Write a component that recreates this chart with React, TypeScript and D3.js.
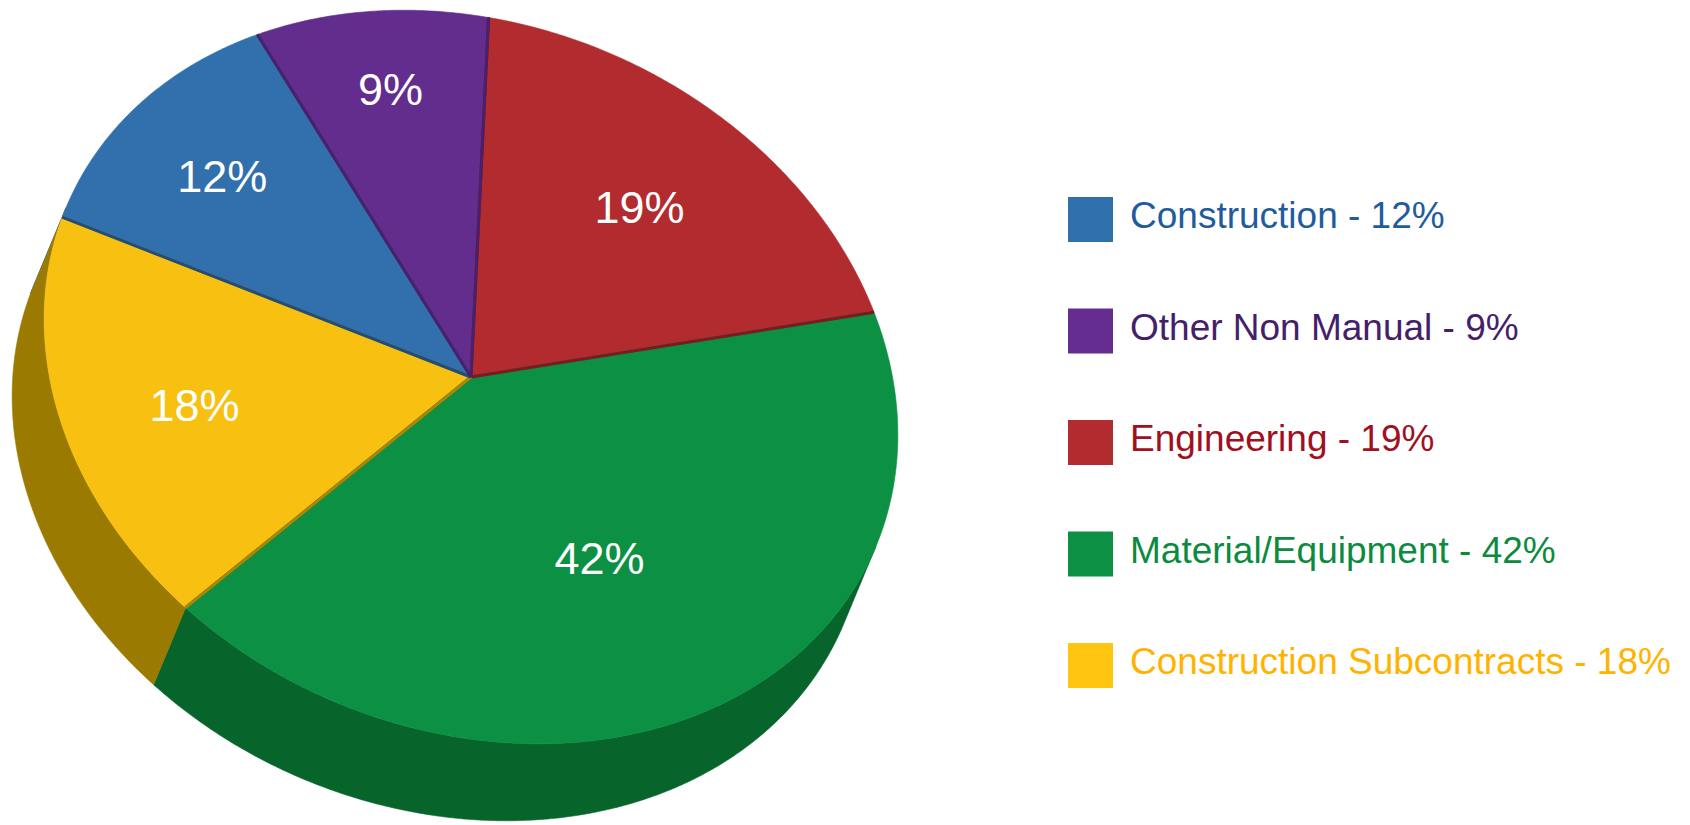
import React from 'react';
import * as d3 from 'd3';

// ---- data ----
const categories: string[] = ['Construction', 'Other Non Manual', 'Engineering', 'Material/Equipment', 'Construction Subcontracts'];
const values: number[] = [12, 9, 19, 42, 18];

// ---- styles ----
const topColors = ['#3170AD', '#632D8E', '#B22B2F', '#0C9144', '#F8C011'];
const sideColors = ['#24558A', '#4A1F6C', '#7E1A1E', '#07652B', '#9A7A00'];
const edgeColors = ['#1F4E7E', '#4A1F6C', '#7E1A1E', '#0A7A38', '#A8860A'];
const swatchColors = ['#3070AD', '#642D8F', '#B22B2F', '#0C9144', '#FFC511'];
const legendTextColors = ['#1F5C9E', '#45206A', '#A0101E', '#0C8A3E', '#FFB300'];

const W = 1690;
const H = 825;
const FONT = "'Liberation Sans', Arial, Helvetica, sans-serif";

// 3D view (orthographic projection of the pie disc)
const CENTER: [number, number] = [471, 377];
const AXIS_X: [number, number] = [17.6, -359.5];
const AXIS_Y: [number, number] = [426.5, 72.7];
const DEPTH: [number, number] = [-32, 77];
const START_ANGLE = (-75.6 * Math.PI) / 180;

const proj = (t: number, f = 1, depth = 0): [number, number] => [
  CENTER[0] + f * (Math.cos(t) * AXIS_X[0] + Math.sin(t) * AXIS_Y[0]) + depth * DEPTH[0],
  CENTER[1] + f * (Math.cos(t) * AXIS_X[1] + Math.sin(t) * AXIS_Y[1]) + depth * DEPTH[1],
];

const STEP = Math.PI / 360;
const sample = (a0: number, a1: number) => {
  const n = Math.max(2, Math.ceil(Math.abs(a1 - a0) / STEP));
  return d3.range(n + 1).map((i) => a0 + ((a1 - a0) * i) / n);
};

const line = d3.line<[number, number]>().curve(d3.curveLinear);

// visible range of the side wall
const A = AXIS_Y[0] * DEPTH[1] - AXIS_Y[1] * DEPTH[0];
const B = AXIS_X[1] * DEPTH[0] - AXIS_X[0] * DEPTH[1];
const PHI = Math.atan2(B, A);
const VIS0 = PHI + Math.PI / 2;
const VIS1 = PHI + (3 * Math.PI) / 2;

// label distance from centre (fraction of radius): smaller slices push labels outward
const labelRadius = (alpha: number) => 0.5 + 0.29 * Math.exp(-(alpha - 0.56) / 1.1);

export default function App() {
  const pie = d3
    .pie<number>()
    .sort(null)
    .value((d) => d)
    .startAngle(START_ANGLE)
    .endAngle(START_ANGLE + 2 * Math.PI);
  const arcs = pie(values);

  // side walls
  const sides: { d: string; color: string; key: string }[] = [];
  arcs.forEach((a, i) => {
    for (const shift of [-2 * Math.PI, 0, 2 * Math.PI]) {
      const lo = Math.max(a.startAngle, VIS0 + shift);
      const hi = Math.min(a.endAngle, VIS1 + shift);
      if (hi > lo) {
        const ts = sample(lo, hi);
        const pts: [number, number][] = [
          ...ts.map((t) => proj(t, 1, 0)),
          ...ts.slice().reverse().map((t) => proj(t, 1, 1)),
        ];
        sides.push({ d: line(pts) + 'Z', color: sideColors[i], key: `s${i}${shift}` });
      }
    }
  });

  const tops = arcs.map((a, i) => {
    const pts: [number, number][] = [CENTER, ...sample(a.startAngle, a.endAngle).map((t) => proj(t))];
    return { d: line(pts) + 'Z', color: topColors[i] };
  });

  // draw order for radial edges (largest first so neighbours overlay)
  const edgeOrder = d3.range(values.length).sort((p, q) => values[q] - values[p]);

  const labels = arcs.map((a, i) => {
    const alpha = a.endAngle - a.startAngle;
    const mid = (a.startAngle + a.endAngle) / 2;
    const [x, y] = proj(mid, labelRadius(alpha));
    return { x, y, text: `${values[i]}%` };
  });

  const legendY = d3.scalePoint<number>().domain(d3.range(values.length)).range([219.5, 665.5]);

  return (
    <svg width={W} height={H} style={{ position: 'absolute', left: 0, top: 0, background: '#fff' }}>
      <g>
        {sides.map((s) => (
          <path key={s.key} d={s.d} fill={s.color} stroke={s.color} strokeWidth={0.6} />
        ))}
      </g>
      <g>
        {tops.map((t, i) => (
          <path key={i} d={t.d} fill={t.color} stroke={t.color} strokeWidth={0.6} />
        ))}
      </g>
      <g>
        {edgeOrder.map((i) => {
          const a = arcs[i];
          const p0 = proj(a.startAngle);
          const p1 = proj(a.endAngle);
          return (
            <g key={i}>
              <line x1={CENTER[0]} y1={CENTER[1]} x2={p0[0]} y2={p0[1]} stroke={edgeColors[i]} strokeWidth={3} />
              <line x1={CENTER[0]} y1={CENTER[1]} x2={p1[0]} y2={p1[1]} stroke={edgeColors[i]} strokeWidth={3} />
            </g>
          );
        })}
      </g>
      <g>
        {labels.map((l, i) => (
          <text
            key={i}
            x={l.x}
            y={l.y + 16}
            textAnchor="middle"
            fill="#ffffff"
            fontFamily={FONT}
            fontSize={45}
          >
            {l.text}
          </text>
        ))}
      </g>
      <g>
        {categories.map((c, i) => {
          const cy = legendY(i) as number;
          return (
            <g key={c}>
              <rect x={1068} y={cy - 22.5} width={45} height={45} fill={swatchColors[i]} />
              <text x={1130} y={cy + 8.5} fill={legendTextColors[i]} fontFamily={FONT} fontSize={37}>
                {`${c} - ${values[i]}%`}
              </text>
            </g>
          );
        })}
      </g>
    </svg>
  );
}
